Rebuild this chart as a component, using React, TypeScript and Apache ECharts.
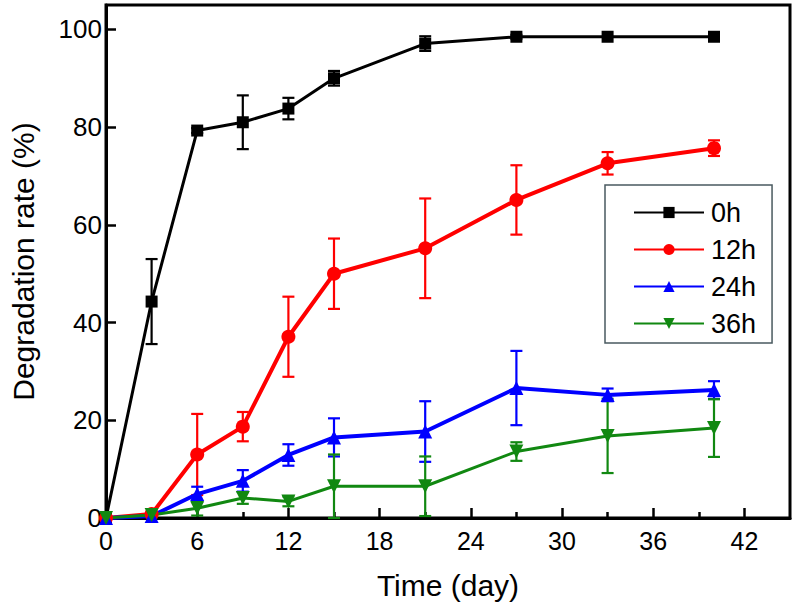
import React, { useEffect, useRef } from "react";
import * as echarts from "echarts";

const days = [0, 3, 6, 9, 12, 15, 21, 27, 33, 40];
const seriesNames = ["0h", "12h", "24h", "36h"];
const rate0h = [0, 44.3, 79.3, 81, 83.8, 90, 97.1, 98.5, 98.5, 98.5];
const err0h = [0, 8.7, 0.5, 5.5, 2.2, 1.5, 1.5, 0.4, 0.3, 0.3];
const rate12h = [0, 0.8, 13, 18.7, 37.1, 50, 55.2, 65.1, 72.6, 75.7];
const err12h = [0, 0.3, 8.3, 3, 8.2, 7.2, 10.2, 7.1, 2.3, 1.6];
const rate24h = [0, 0.4, 4.9, 7.6, 12.9, 16.5, 17.7, 26.6, 25.2, 26.2];
const err24h = [0, 0.3, 1.5, 2.2, 2.2, 3.9, 6.2, 7.6, 1.3, 1.8];
const rate36h = [0, 0.6, 2.0, 4.1, 3.4, 6.5, 6.5, 13.6, 16.8, 18.4];
const err36h = [0, 0.5, 1.5, 1.2, 1.0, 6.5, 6.1, 1.9, 7.6, 5.9];
const xMinorTicks = [3, 9, 15, 21, 27, 33, 39];

const FONT = "'Liberation Sans', Arial, sans-serif";

export default function App() {
  const ref = useRef<HTMLDivElement>(null);
  useEffect(() => {
    if (!ref.current) return;
    const chart = echarts.init(ref.current, null, { renderer: "svg" });

    const colors = ["#000000", "#ff0000", "#0000ff", "#118811"];
    const symbols = ["rect", "circle", "triangle", "triangle"];
    const rotations = [0, 0, 0, 180];
    const sizes = [12, 14, 14, 14];
    const widths = [3, 4, 4, 3];
    const rates = [rate0h, rate12h, rate24h, rate36h];
    const errs = [err0h, err12h, err24h, err36h];

    const lineSeries = rates.map((r, k) => ({
      type: "line",
      name: seriesNames[k],
      xAxisIndex: 0,
      data: days.map((d, i) => [d, r[i]]),
      symbol: symbols[k],
      symbolRotate: rotations[k],
      symbolSize: sizes[k],
      lineStyle: { color: colors[k], width: widths[k] },
      itemStyle: { color: colors[k] },
      z: 3,
    }));

    const errSeries = rates.map((r, k) => ({
      type: "custom",
      xAxisIndex: 0,
      silent: true,
      z: 2,
      data: days
        .map((d, i) => [d, r[i] - errs[k][i], r[i] + errs[k][i], errs[k][i]])
        .filter((v) => v[3] > 0.35),
      encode: { x: 0, y: [1, 2] },
      renderItem: (params: any, api: any) => {
        const x = api.value(0);
        const lo = api.value(1);
        const hi = api.value(2);
        const p1 = api.coord([x, hi]);
        const p2 = api.coord([x, lo]);
        const w = 6;
        const style = { stroke: colors[k], lineWidth: 2.2 };
        return {
          type: "group",
          children: [
            { type: "line", shape: { x1: p1[0], y1: p1[1], x2: p2[0], y2: p2[1] }, style },
            { type: "line", shape: { x1: p1[0] - w, y1: p1[1], x2: p1[0] + w, y2: p1[1] }, style },
            { type: "line", shape: { x1: p2[0] - w, y1: p2[1], x2: p2[0] + w, y2: p2[1] }, style },
          ],
        };
      },
    }));

    chart.setOption({
      animation: false,
      backgroundColor: "#ffffff",
      textStyle: { fontFamily: FONT },
      grid: {
        left: 100,
        top: 5,
        right: 6,
        bottom: 91,
        show: true,
        borderColor: "#000",
        borderWidth: 3,
        containLabel: false,
      },
      legend: {
        data: seriesNames,
        orient: "vertical",
        left: 605,
        top: 185,
        itemWidth: 70,
        itemHeight: 14,
        itemGap: 10,
        padding: [14, 16, 6, 28],
        borderColor: "#4a5a60",
        borderWidth: 1.5,
        backgroundColor: "#fff",
        textStyle: { fontFamily: FONT, fontSize: 27, color: "#000", lineHeight: 27, padding: [0, 0, 0, 2] },
      },
      xAxis: [
        {
          type: "value",
          min: 0,
          max: 45,
          interval: 6,
          name: "Time (day)",
          nameLocation: "middle",
          nameGap: 52,
          nameTextStyle: { fontFamily: FONT, fontSize: 30, color: "#000" },
          axisLine: { show: true, lineStyle: { color: "#000", width: 3 } },
          axisTick: { show: true, inside: true, length: 10, lineStyle: { color: "#000", width: 2.5 } },
          axisLabel: { fontFamily: FONT, fontSize: 25, color: "#000", margin: 10, showMaxLabel: false },
          splitLine: { show: false },
        },
        {
          type: "value",
          min: 0,
          max: 45,
          position: "bottom",
          axisLine: { show: false },
          axisTick: {
            show: true,
            inside: true,
            length: 6,
            lineStyle: { color: "#000", width: 2.5 },
            customValues: xMinorTicks,
          },
          axisLabel: { show: false },
          splitLine: { show: false },
        },
      ],
      yAxis: {
        type: "value",
        min: 0,
        max: 105,
        interval: 20,
        name: "Degradation rate (%)",
        nameLocation: "middle",
        nameGap: 68,
        nameTextStyle: { fontFamily: FONT, fontSize: 30, color: "#000" },
        axisLine: { show: true, lineStyle: { color: "#000", width: 3 } },
        axisTick: { show: true, inside: true, length: 10, lineStyle: { color: "#000", width: 2.5 } },
        axisLabel: { fontFamily: FONT, fontSize: 26, color: "#000", margin: 4, showMaxLabel: false },
        splitLine: { show: false },
      },
      series: [...errSeries, ...lineSeries],
    });

    return () => chart.dispose();
  }, []);

  return (
    <div
      ref={ref}
      style={{ position: "fixed", left: 0, top: 0, width: 796, height: 609, background: "#fff" }}
    />
  );
}
